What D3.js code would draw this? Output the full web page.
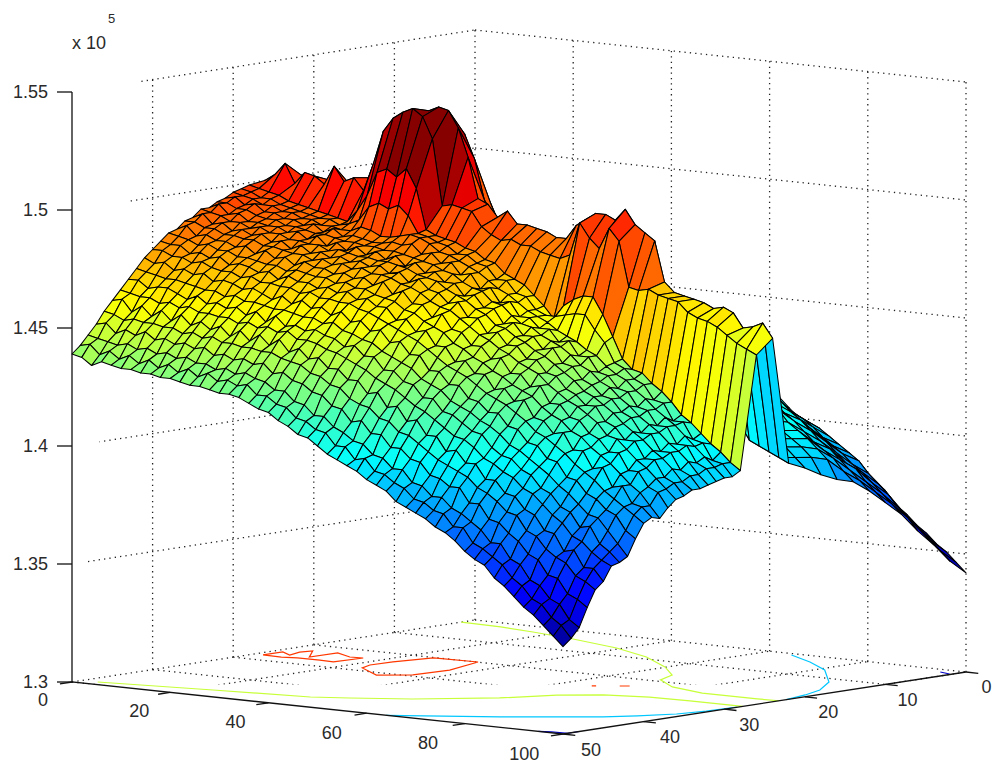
<!DOCTYPE html>
<html>
<head>
<meta charset="utf-8">
<script src="https://cdn.jsdelivr.net/npm/d3@7/dist/d3.min.js"></script>
<style>html,body{margin:0;padding:0;background:#fff}svg{display:block}text{font-family:"Liberation Sans",Arial,sans-serif;fill:#2a2a2a}</style>
</head>
<body>
<svg id="c" width="992" height="767"></svg>
<script>
// heights above 1.3e5, in hundreds; one row per y, one value per x step of 2
const y0=[148,148,147,147,146,146,146,145,145,144,143,142,142,141,140,139,138,137,137,136,134,133,131,129,127,123,121,119,116,113,110,108,104,100,97,92,88,85,81,78,75,72,70,67,64,60,57,53,50,46,42];
const y2=[152,151,151,150,150,149,149,148,148,147,146,145,144,143,142,141,140,139,137,136,135,133,131,129,127,124,122,120,118,115,112,110,108,105,103,101,98,95,91,86,82,78,76,73,71,67,63,60,56,52,48];
const y4=[157,156,156,155,155,154,154,153,153,152,152,151,151,150,149,148,147,146,144,142,140,138,135,133,131,129,126,124,122,120,117,115,113,110,108,105,103,101,99,96,93,91,87,84,80,77,72,68,64,60,56];
const y6=[162,161,161,160,160,159,158,158,157,156,155,155,154,154,153,152,152,151,151,150,150,148,146,143,140,137,135,133,130,128,125,123,120,118,116,113,111,108,106,104,102,99,96,93,90,85,81,77,72,68,63];
const y8=[166,166,165,165,164,163,163,162,161,161,160,159,158,158,157,156,156,155,154,153,152,151,151,150,150,147,145,142,139,136,133,131,128,126,123,120,117,114,112,109,107,104,100,97,94,90,87,83,79,75,71];
const y10=[170,170,169,168,168,167,167,166,165,165,165,164,163,163,162,161,160,160,159,158,157,156,155,153,151,151,149,147,145,143,141,138,136,133,131,128,125,122,119,115,112,109,106,103,100,96,92,90,85,81,77];
const y12=[173,173,172,172,171,170,170,170,169,168,168,167,167,166,165,165,164,163,163,162,161,160,159,157,156,155,153,152,151,150,148,146,144,141,138,136,133,130,126,123,120,117,113,110,106,102,99,95,91,87,83];
const y14=[177,176,176,175,175,174,174,173,172,172,172,171,171,170,169,169,168,168,167,167,166,165,164,162,161,160,158,157,155,154,152,151,149,146,144,141,138,135,132,128,124,121,118,114,111,107,103,100,97,92,88];
const y16=[181,180,180,179,179,178,178,177,177,176,176,175,175,174,174,174,173,173,172,172,171,170,169,167,166,165,164,162,161,160,158,156,154,151,149,147,144,141,138,134,131,128,124,120,117,112,109,106,102,98,90];
const y18=[185,184,184,183,183,182,182,181,180,179,178,172,175,180,185,186,184,180,178,178,176,175,174,172,171,170,168,167,165,163,162,160,158,155,152,149,146,143,140,137,134,130,126,122,118,114,110,107,104,100,93];
const y20=[188,188,187,187,186,186,185,185,184,183,178,175,185,200,205,207,206,203,195,185,180,178,177,176,175,174,172,171,169,168,166,164,162,159,157,153,150,147,144,140,137,134,130,125,121,118,113,108,105,101,97];
const y22=[192,191,191,190,190,189,189,188,188,187,186,180,195,215,228,228,230,225,215,198,186,184,183,182,181,180,178,176,175,174,172,170,168,165,162,159,155,152,150,146,143,139,135,130,122,115,108,106,104,102,100];
const y24=[197,198,202,200,199,201,202,200,202,204,196,200,218,232,234,235,237,236,229,217,200,198,193,196,191,191,190,189,187,187,193,196,199,199,197,202,196,193,190,173,169,168,167,166,164,165,163,157,158,160,154];
const y26=[200,203,208,200,205,204,201,209,203,205,200,212,226,232,235,237,234,225,197,198,197,196,190,187,185,186,184,184,182,181,180,182,196,190,186,195,190,171,170,171,169,168,167,163,161,160,158,155,152,150,148];
const y28=[199,198,197,196,194,193,192,191,190,189,188,193,200,210,212,209,213,205,188,186,185,184,182,181,178,177,173,171,169,165,161,156,162,165,167,167,160,151,142,138,137,133,130,126,121,118,114,110,107,103,100];
const y29=[198,197,195,195,193,192,191,190,189,189,187,188,190,196,198,196,198,194,187,186,184,183,180,180,177,176,171,171,166,165,160,158,158,159,160,160,154,149,141,139,135,133,127,126,119,119,112,111,104,103,98];
const y30=[197,196,195,193,193,191,191,189,189,187,187,186,186,188,187,185,185,186,187,186,184,181,180,178,176,174,171,168,166,163,160,158,156,153,151,149,146,144,140,137,135,131,128,124,121,118,114,110,106,102,98];
const y31=[195,196,193,194,191,191,189,189,187,188,185,187,184,185,184,183,183,184,183,184,180,181,177,178,173,174,168,169,163,164,158,158,154,154,149,150,144,144,138,137,132,131,125,124,118,118,111,111,104,102,97];
const y32=[194,194,192,192,190,189,189,187,187,186,185,185,184,183,183,182,182,181,181,180,179,178,177,175,174,171,169,168,164,163,159,156,155,152,150,148,145,141,139,135,133,129,126,122,119,116,112,109,105,100,96];
const y33=[192,194,190,191,188,188,187,187,185,186,183,185,181,183,180,182,179,181,178,180,176,178,174,175,171,171,166,167,162,162,156,157,152,152,147,148,142,141,136,134,130,129,124,122,116,116,109,109,102,100,95];
const y34=[192,191,190,188,188,186,187,185,185,183,183,182,182,180,181,180,179,179,178,178,177,176,174,173,172,169,167,165,162,160,156,155,152,150,147,145,142,139,136,132,130,127,124,120,117,114,110,107,103,98,95];
const y35=[189,191,187,188,185,186,184,185,182,183,180,182,179,180,178,179,177,178,176,177,174,175,171,173,169,168,164,165,159,159,153,154,149,149,144,144,139,138,133,131,127,127,121,119,114,114,107,107,100,98,93];
const y36=[188,188,186,186,184,184,183,183,181,181,180,179,179,177,178,176,177,175,176,174,174,173,171,170,168,165,163,162,159,156,153,151,148,146,143,141,139,135,132,129,127,124,121,116,115,111,107,104,100,96,92];
const y37=[185,187,183,184,182,182,180,181,178,180,177,178,175,177,175,175,173,174,172,173,170,172,167,169,164,164,159,161,155,154,149,149,144,145,139,139,134,135,128,128,123,122,117,115,110,110,103,103,97,95,89];
const y38=[184,183,182,180,181,179,179,177,177,176,175,175,173,174,173,172,172,170,171,169,169,167,166,165,162,161,158,156,154,150,148,145,143,140,138,135,133,131,127,124,122,118,116,112,109,106,102,98,95,90,85];
const y39=[181,180,180,177,178,176,177,174,175,174,172,173,170,172,170,170,168,169,167,168,165,166,163,163,158,159,154,155,149,149,143,144,139,139,133,134,129,130,123,122,117,118,111,111,104,105,97,98,91,90,86];
const y40=[178,178,176,176,174,175,173,172,172,170,171,169,169,168,168,166,167,165,165,164,164,162,161,159,157,155,153,151,148,145,142,140,138,135,132,130,128,125,122,118,116,113,110,106,103,100,96,93,90,87,84];
const y41=[175,173,174,171,172,170,171,168,169,168,166,167,165,163,165,162,164,161,162,159,161,157,158,154,155,150,151,146,146,140,140,135,135,130,129,125,125,120,119,114,113,108,107,101,100,95,93,89,87,81,78];
const y42=[171,170,169,168,168,167,166,165,165,163,164,162,162,161,160,160,159,158,158,156,157,154,153,151,150,147,145,143,141,137,135,133,129,127,125,122,120,117,113,111,108,105,102,98,95,91,87,86,81,76,71];
const y43=[167,167,164,165,165,163,161,163,160,161,159,160,157,159,155,158,154,155,153,154,152,151,148,149,145,145,140,140,136,135,130,130,125,124,121,118,117,112,109,108,104,102,97,95,90,88,82,83,76,73,69];
const y44=[163,162,161,161,159,160,158,159,157,157,156,156,154,155,153,154,152,153,150,150,149,147,146,144,142,140,137,135,133,130,127,125,122,119,116,115,112,108,106,103,101,97,95,91,87,84,79,77,73,70,68];
const y45=[159,160,155,158,154,157,153,156,152,154,151,153,149,152,148,151,147,150,145,147,143,144,140,140,136,136,131,132,126,127,121,122,116,116,110,111,106,106,100,100,95,94,89,87,81,80,73,74,67,67,62];
const y46=[155,154,152,153,152,152,151,151,149,150,148,149,147,147,146,146,145,145,143,142,141,138,137,134,133,129,127,126,122,121,117,116,113,110,107,105,103,101,97,95,92,88,87,81,79,74,71,69,64,62,59];
const y47=[150,151,147,149,147,149,146,147,145,146,144,145,142,143,141,142,140,141,137,138,135,134,131,130,126,125,120,121,116,116,111,111,107,106,101,100,97,97,91,91,85,84,80,77,72,70,64,63,57,55,52];
const y48=[146,145,144,143,144,142,143,141,142,140,141,139,139,137,138,136,137,135,134,131,131,127,126,122,122,118,116,113,112,108,107,103,103,98,97,93,93,89,87,84,81,76,76,70,68,62,60,55,53,47,44];
const y49=[142,143,139,141,138,140,137,139,136,138,135,137,134,136,133,134,132,133,129,129,126,125,121,120,117,116,111,111,106,107,102,101,98,96,92,91,88,87,82,82,76,74,71,68,63,60,55,53,48,45,40];
const y50=[139,138,135,137,136,135,135,134,134,133,133,132,131,131,130,129,129,128,126,124,123,120,118,115,114,111,108,106,104,102,99,97,95,91,89,87,85,82,80,77,73,70,68,63,60,56,52,49,45,41,37];
const zRows=[y0,y2,y4,y6,y8,y10,y12,y14,y16,y18,y20,y22,y24,y26,y28,y29,y30,y31,y32,y33,y34,y35,y36,y37,y38,y39,y40,y41,y42,y43,y44,y45,y46,y47,y48,y49,y50];
const xGrid=d3.range(0,101,2);
const yGrid=[0,2,4,6,8,10,12,14,16,18,20,22,24,26,28,29,30,31,32,33,34,35,36,37,38,39,40,41,42,43,44,45,46,47,48,49,50];

// floor contours, as [x, y] pairs
const contour145a=[[3.1,48.7],[23.3,46.7],[40.5,45.1],[46,43.6],[54.4,40.9],[64.1,36],[68.7,31.7],[74.2,29.3],[81.5,28],[89.4,27.8],[100,27.7]];
const contour145b=[[0,1.7],[8.5,2],[16.4,2.8],[26.7,4.1],[39,6.2],[49.7,9],[59.7,12.8],[66.9,16.3],[69.3,19.2],[76.3,22],[84.7,23.4],[95.9,23.4],[100,23.2]];
const contour140=[[64,50],[79,45],[91.4,39.8],[94.8,37.6],[98,34.7],[99.3,31.8],[99.8,28.3]];
const contour140b=[[100,22.3],[98.6,19.1],[96.5,16],[91.3,11.7],[81.4,6.2],[73.3,3.1],[65.6,0.7]];
const contour150a=[[33.3,19.9],[24.7,20.2],[23,24.2],[22.6,26.8],[24,28.6],[31.3,31.3],[35.6,29.4],[36.2,25.2],[33.3,19.9]];
const contour150b=[[1.8,27.4],[1.9,25],[5.1,26.1],[4,24.2],[4.7,23],[9.1,26.1],[9.3,22.7],[13.9,24],[16.3,23.8],[15.8,27.2],[12.7,27],[8.3,27.1],[5.7,27.5],[1.8,27.4]];
const contour150c=[[65.8,25.6],[66.2,25.3]];
const contour150d=[[69.2,24.2],[70.4,23.7]];
const contour135a=[[95,50],[97,49.6],[100,49.4],[100,48]];
const contour135b=[[96.9,1.3],[99.6,1.8]];
const contourSets=[
  [135000,[contour135a,contour135b]],
  [140000,[contour140,contour140b]],
  [145000,[contour145a,contour145b]],
  [150000,[contour150a,contour150b,contour150c,contour150d]]
];

const zTicks=[130000,135000,140000,145000,150000,155000];
const zLabels=["1.3","1.35","1.4","1.45","1.5","1.55"];
const xTicks=[0,20,40,60,80,100];
const yTicks=[0,10,20,30,40,50];
const Z0=130000, Z1=155000;

const xToX=d3.scaleLinear([0,100],[0,491]);
const xToY=d3.scaleLinear([0,100],[0,52]);
const yToX=d3.scaleLinear([50,0],[0,403]);
const yToY=d3.scaleLinear([50,0],[0,-62]);
const zToY=d3.scaleLinear([Z0,Z1],[0,-590]);
const project=(x,y,z)=>[72+xToX(x)+yToX(y),682+xToY(x)+yToY(y)+zToY(z)];
const xLabelOffset=d3.scaleLinear([0,100],[53.6,54.8]);
const yLabelOffset=d3.scaleLinear([0,50],[104.2,105.7]);

const cNorm=d3.scaleLinear([133600,153600],[0,1]).clamp(true);
function jet(z){
  const t=(Math.min(63,Math.floor(cNorm(z)*64))+0.5)/64;
  const ch=v=>Math.round(255*Math.max(0,Math.min(1,v)));
  return d3.rgb(ch(1.5-Math.abs(4*t-3)),ch(1.5-Math.abs(4*t-2)),ch(1.5-Math.abs(4*t-1))).formatHex();
}

const svg=d3.select("#c");
const defs=svg.append("defs");
defs.append("clipPath").attr("id","floorClip").append("rect").attr("x",0).attr("y",0).attr("width",992).attr("height",684.5);
defs.append("clipPath").attr("id","wallClip").append("polygon").attr("points","72,682 141,80 141,0 992,0 992,767 72,767");

const line=d3.line();
const dotted=g=>g.attr("fill","none").attr("stroke","#222").attr("stroke-width",1.3).attr("stroke-dasharray","1.3 4.1");

// back walls and floor grid
const floorG=svg.append("g").attr("clip-path","url(#floorClip)").call(dotted);
xTicks.forEach(x=>floorG.append("path").attr("d",line([project(x,50,Z0),project(x,0,Z0)])));
yTicks.forEach(y=>floorG.append("path").attr("d",line([project(0,y,Z0),project(100,y,Z0)])));
const wallG=svg.append("g").call(dotted);
const leftG=svg.append("g").attr("clip-path","url(#wallClip)").call(dotted);
zTicks.filter(z=>z>Z0).forEach(z=>{
  leftG.append("path").attr("d",line([project(0,50,z),project(0,0,z)]));
  wallG.append("path").attr("d",line([project(0,0,z),project(100,0,z)]));
});
yTicks.filter(y=>y<50).forEach(y=>wallG.append("path").attr("d",line([project(0,y,Z0),project(0,y,Z1)])));
xTicks.filter(x=>x>0).forEach(x=>wallG.append("path").attr("d",line([project(x,0,Z0),project(x,0,Z1)])));

// floor contours
contourSets.forEach(([lvl,paths])=>{
  svg.append("g").attr("fill","none").attr("stroke",jet(lvl)).attr("stroke-width",1.2)
    .selectAll("path").data(paths).join("path")
    .attr("d",p=>line(p.map(([x,y])=>project(x,y,Z0))));
});

// axes
const axisG=svg.append("g").attr("fill","none").attr("stroke","#111").attr("stroke-width",1.3);
axisG.append("path").attr("d",line([project(0,50,Z1),project(0,50,Z0),project(100,50,Z0),project(100,0,Z0)]));
zTicks.forEach(z=>{const p=project(0,50,z);axisG.append("path").attr("d",line([p,[p[0]-15,p[1]]]));});
xTicks.forEach(x=>axisG.append("path").attr("d",line([project(x,50,Z0),project(x,51.5,Z0)])));
yTicks.forEach(y=>axisG.append("path").attr("d",line([project(100,y,Z0),project(102.5,y,Z0)])));

// labels
const fs=18;
zTicks.forEach((z,i)=>{const p=project(0,50,z);
  svg.append("text").attr("x",p[0]-24).attr("y",p[1]+6).attr("text-anchor","end").attr("font-size",fs).text(zLabels[i]);});
xTicks.forEach(x=>{const p=project(x,xLabelOffset(x),Z0);
  svg.append("text").attr("x",p[0]).attr("y",p[1]+20).attr("text-anchor","middle").attr("font-size",fs).text(x);});
yTicks.forEach(y=>{const p=project(yLabelOffset(y),y,Z0);
  svg.append("text").attr("x",p[0]).attr("y",p[1]+19).attr("text-anchor","middle").attr("font-size",fs).text(y);});
svg.append("text").attr("x",72).attr("y",49).attr("font-size",fs).text("x 10");
svg.append("text").attr("x",108).attr("y",23).attr("font-size",13).text("5");

// surface, far to near
const facets=[];
yGrid.slice(0,-1).forEach((yv,r)=>{
  xGrid.slice(0,-1).forEach((xv,c)=>{
    const h=(rr,cc)=>Z0+zRows[rr][cc]*100;
    facets.push({
      pts:[project(xv,yv,h(r,c)),project(xGrid[c+1],yv,h(r,c+1)),project(xGrid[c+1],yGrid[r+1],h(r+1,c+1)),project(xv,yGrid[r+1],h(r+1,c))],
      color:jet(h(r,c))
    });
  });
});
svg.append("g").attr("stroke","#000").attr("stroke-width",1.05).attr("stroke-linejoin","round")
  .selectAll("polygon").data(facets).join("polygon")
  .attr("points",d=>d.pts.map(p=>p.map(v=>v.toFixed(1)).join(",")).join(" "))
  .attr("fill",d=>d.color);
</script>
</body>
</html>
